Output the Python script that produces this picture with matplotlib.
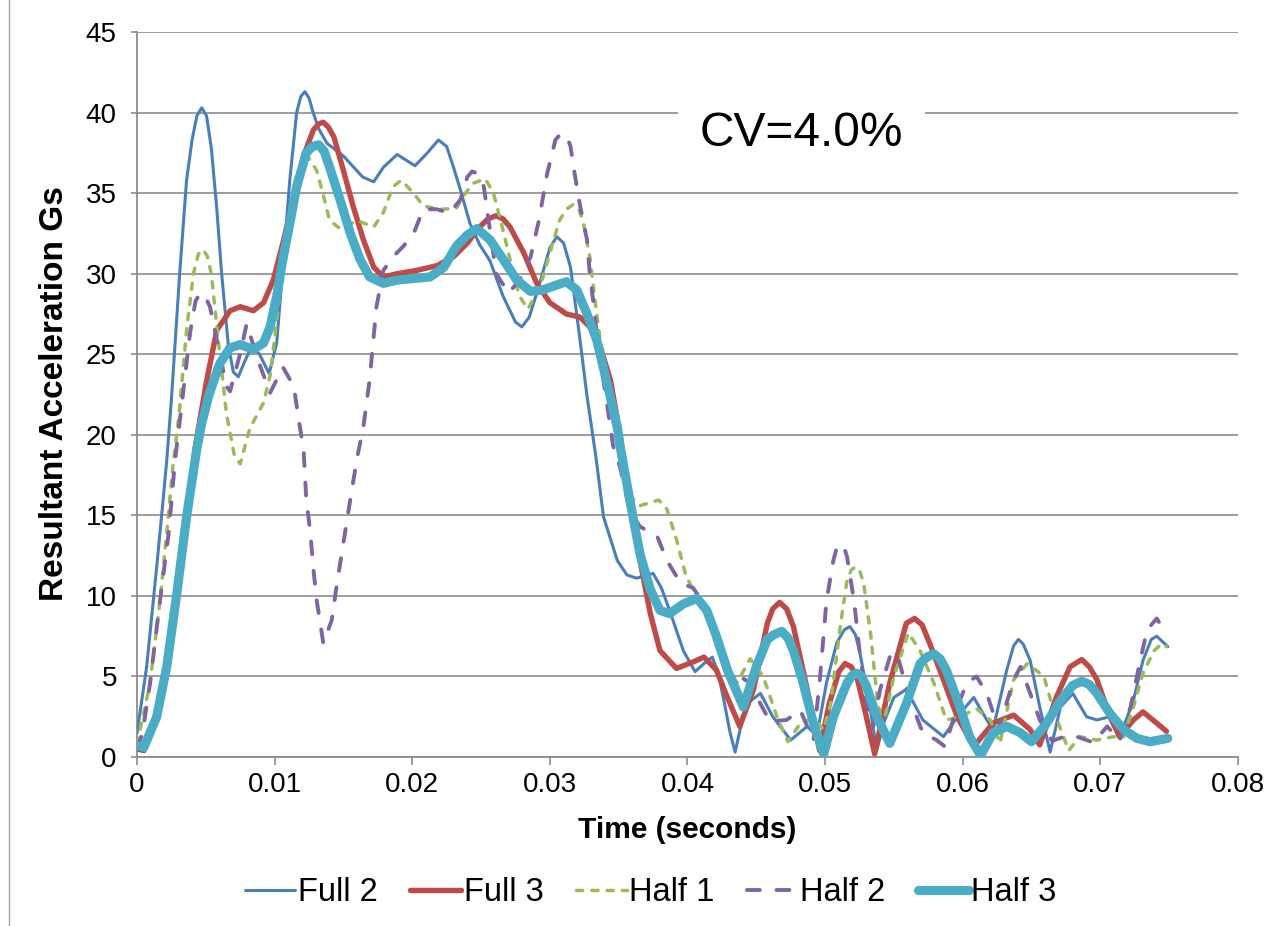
import numpy as np
import matplotlib.pyplot as plt
from matplotlib.lines import Line2D
from matplotlib.ticker import FuncFormatter

plt.rcParams['font.family'] = ['Liberation Sans', 'DejaVu Sans']

# times in milliseconds, values in G
t_full2 = [0, 0.7, 1.43, 1.9, 2.16, 2.5, 3.1, 3.6, 4.0, 4.35, 4.7, 5.05, 5.4, 5.8, 6.15,
           6.64, 7.0, 7.36, 7.8, 8.33, 8.9, 9.6, 10.15, 10.6, 11.1, 11.6, 11.9, 12.2, 12.5,
           12.8, 13.2, 13.8, 15.0, 16.4, 17.2, 17.9, 18.9, 20.2, 21.1, 21.9, 22.5, 23.0,
           23.5, 24.2, 24.9, 25.65, 26.6, 27.5, 27.96, 28.5, 29.05, 30.0, 30.5, 31.0, 31.5,
           32.1, 32.7, 33.35, 33.9, 34.9, 35.6, 36.3, 37.5, 38.1, 38.7, 39.7, 40.55, 41.2,
           41.8, 42.2, 42.6, 43.1, 43.46, 43.9, 44.3, 45.3, 46.2, 47.5, 48.7, 49.4, 50.1,
           50.85, 51.4, 51.8, 52.2, 52.5, 53.3, 53.75, 54.3, 55.0, 55.9, 57.1, 58.6, 59.8,
           60.8, 61.75, 62.2, 63.2, 63.7, 64.05, 64.4, 64.9, 65.6, 66.35, 67.1, 68.0, 69.0,
           69.75, 70.7, 71.7, 72.4, 73.1, 73.7, 74.1, 74.9]
v_full2 = [1.5, 5.6, 11.8, 16.0, 18.4, 22.2, 30.0, 35.8, 38.3, 39.8, 40.3, 39.8, 37.8, 34.0,
           30.0, 25.5, 23.9, 23.6, 24.5, 25.5, 25.0, 23.8, 25.7, 30.4, 35.8, 40.0, 41.0,
           41.3, 40.9, 40.0, 39.0, 38.1, 37.3, 36.0, 35.7, 36.6, 37.4, 36.7, 37.5, 38.3,
           37.9, 36.6, 35.2, 33.1, 31.8, 30.8, 28.6, 27.0, 26.7, 27.3, 28.8, 31.6, 32.3,
           31.9, 30.4, 26.5, 22.4, 18.6, 14.9, 12.2, 11.3, 11.1, 11.4, 10.5, 9.1, 6.6, 5.3,
           5.8, 6.2, 5.3, 3.7, 1.5, 0.3, 2.0, 3.3, 3.95, 2.5, 1.05, 1.9, 1.3, 4.6, 7.1, 7.9,
           8.1, 7.6, 6.6, 2.9, 0.4, 2.2, 3.7, 4.2, 2.3, 1.26, 2.7, 3.7, 2.3, 1.7, 5.4, 6.9,
           7.3, 7.0, 6.0, 3.1, 0.3, 3.1, 3.95, 2.5, 2.3, 2.5, 1.9, 3.5, 6.0, 7.3, 7.5, 6.85]

t_full3 = [0, 0.5, 1.2, 1.9, 2.9, 3.6, 4.3, 5.07, 5.8, 6.76, 7.5, 8.45, 9.2, 9.9, 10.6,
           11.4, 12.1, 12.8, 13.2, 13.54, 13.9, 14.3, 15.0, 15.7, 16.45, 17.2, 17.9, 18.9,
           20.3, 21.8, 23.0, 24.0, 24.9, 25.5, 26.1, 26.6, 27.1, 28.1, 29.05, 30.0, 31.2,
           32.2, 32.9, 33.65, 34.4, 35.1, 35.8, 36.55, 37.3, 38.0, 39.2, 40.4, 41.2, 42.1,
           42.9, 43.8, 44.8, 45.8, 46.2, 46.7, 47.2, 47.7, 48.7, 49.6, 50.3, 51.0, 51.45,
           51.9, 52.3, 53.0, 53.6, 54.7, 55.9, 56.5, 57.05, 57.6, 58.6, 59.6, 60.8, 62.2,
           63.7, 64.9, 65.6, 66.8, 67.8, 68.65, 69.2, 69.75, 70.7, 71.4, 72.4, 73.1, 74.1,
           74.8]
v_full3 = [0.5, 0.4, 2.0, 4.6, 9.7, 14.9, 19.6, 23.4, 26.5, 27.7, 27.95, 27.7, 28.2, 29.6,
           31.9, 34.8, 37.3, 38.9, 39.3, 39.4, 39.1, 38.5, 36.4, 34.2, 32.1, 30.4, 29.8,
           30.0, 30.2, 30.5, 31.05, 31.9, 32.9, 33.4, 33.6, 33.4, 32.9, 31.3, 29.4, 28.2,
           27.5, 27.3, 26.7, 25.5, 23.4, 20.0, 16.0, 12.2, 8.9, 6.6, 5.5, 5.9, 6.2, 5.4, 3.7,
           1.9, 4.2, 8.3, 9.2, 9.6, 9.2, 8.1, 4.2, 0.4, 3.3, 5.3, 5.8, 5.6, 5.0, 2.5, 0.2,
           4.6, 8.3, 8.6, 8.2, 7.05, 4.8, 2.5, 0.65, 2.1, 2.6, 1.7, 0.75, 3.7, 5.6, 6.05,
           5.6, 4.8, 2.5, 1.26, 2.3, 2.8, 2.1, 1.6]

t_half1 = [0, 0.95, 1.67, 2.16, 2.6, 3.05, 3.6, 4.1, 4.45, 4.8, 5.1, 5.4, 5.9, 6.5, 7.1,
           7.5, 8.2, 9.2, 9.7, 10.15, 10.6, 11.1, 11.6, 12.3, 13.06, 13.5, 14.0, 14.75,
           16.0, 17.2, 17.9, 18.6, 19.2, 20.1, 20.8, 22.0, 23.2, 23.7, 24.4, 25.3, 25.9,
           26.6, 27.35, 27.8, 28.4, 29.3, 30.0, 30.7, 31.2, 31.7, 32.1, 32.4, 32.9, 33.4,
           33.8, 34.5, 35.1, 35.6, 36.55, 37.9, 38.5, 39.2, 39.9, 40.7, 41.4, 42.1, 42.9,
           43.6, 44.55, 45.5, 46.5, 47.3, 48.2, 49.15, 49.9, 50.4, 51.1, 51.6, 51.9, 52.2,
           52.5, 52.8, 53.3, 53.8, 54.2, 55.0, 56.05, 56.9, 57.9, 58.8, 59.8, 61.0, 62.0,
           62.7, 63.7, 64.7, 65.9, 66.6, 67.7, 68.5, 69.75, 70.95, 71.7, 72.4, 73.1, 73.9,
           74.5, 74.8]
v_half1 = [0.8, 4.6, 9.7, 13.9, 18.0, 21.2, 26.5, 30.0, 31.2, 31.5, 31.1, 30.0, 25.9, 21.3,
           18.6, 18.2, 20.4, 22.0, 23.8, 27.1, 30.4, 33.8, 36.2, 37.4, 36.4, 35.0, 33.3,
           32.8, 33.3, 32.9, 33.8, 35.4, 35.8, 35.0, 34.2, 34.0, 34.05, 34.8, 35.6, 35.9,
           35.0, 32.7, 30.0, 28.6, 27.8, 29.2, 31.3, 33.3, 34.0, 34.3, 34.0, 33.3, 31.05,
           27.5, 25.05, 21.3, 18.5, 16.4, 15.6, 15.95, 15.4, 13.5, 11.2, 9.95, 8.9, 7.5, 5.6,
           4.6, 6.1, 5.0, 2.5, 0.95, 2.1, 2.4, 1.7, 3.3, 8.1, 11.0, 11.6, 11.8, 11.6, 10.8,
           7.7, 3.5, 1.9, 5.0, 7.7, 6.6, 4.6, 2.3, 2.5, 3.0, 2.3, 0.85, 4.8, 5.8, 5.0, 2.9,
           0.4, 1.26, 1.05, 1.26, 1.26, 3.1, 5.2, 6.6, 7.05, 6.85]

t_half2 = [0, 0.4, 0.95, 1.67, 2.3, 2.76, 3.2, 3.85, 4.25, 4.6, 4.95, 5.3, 5.8, 6.5, 6.76,
           7.5, 7.97, 8.7, 9.67, 10.6, 11.4, 11.7, 12.1, 12.3, 12.6, 12.8, 13.06, 13.54,
           14.15, 14.5, 15.0, 15.5, 16.0, 16.45, 16.9, 17.4, 17.9, 18.6, 19.35, 20.1, 20.8,
           21.8, 22.7, 23.5, 24.0, 24.35, 24.8, 25.2, 25.65, 26.1, 27.0, 27.8, 28.6, 29.2,
           29.8, 30.4, 30.7, 31.0, 31.25, 31.5, 31.8, 32.2, 32.7, 32.9, 33.2, 33.5, 34.1,
           34.6, 35.1, 35.8, 36.55, 37.8, 38.5, 39.5, 40.4, 41.4, 42.1, 42.9, 43.8, 44.55,
           45.3, 46.0, 47.2, 48.2, 48.7, 49.15, 49.6, 50.1, 50.6, 50.85, 51.1, 51.35, 51.6,
           52.1, 52.5, 53.0, 53.5, 54.0, 54.7, 55.2, 56.1, 57.1, 58.1, 58.7, 59.6, 60.3,
           61.0, 61.75, 62.6, 63.7, 64.2, 64.9, 65.6, 66.5, 67.5, 68.3, 69.5, 70.5, 71.4,
           72.2, 72.9, 73.4, 74.1, 74.6]
v_half2 = [0.5, 1.5, 4.6, 9.7, 13.9, 18.4, 21.5, 26.3, 28.3, 28.8, 28.6, 27.95, 25.9, 23.0,
           22.7, 25.05, 26.9, 24.85, 22.6, 24.2, 23.0, 21.2, 19.1, 16.0, 13.9, 11.8, 9.7,
           7.05, 8.5, 10.6, 13.3, 16.0, 18.6, 20.5, 23.4, 27.95, 30.2, 31.05, 31.7, 32.5,
           34.0, 34.0, 33.75, 34.6, 36.0, 36.35, 36.2, 35.4, 32.7, 30.0, 28.8, 29.6, 31.05,
           33.3, 36.2, 38.3, 38.6, 38.7, 38.5, 37.9, 36.2, 34.2, 32.1, 30.0, 27.95, 25.5,
           22.2, 19.3, 18.0, 15.3, 14.3, 13.7, 12.2, 10.8, 10.5, 9.3, 7.05, 5.0, 5.0, 4.6,
           3.3, 2.2, 2.3, 2.9, 1.9, 1.05, 4.6, 9.7, 12.2, 13.0, 13.2, 13.1, 12.4, 9.7, 6.6,
           3.5, 1.9, 4.2, 6.2, 6.5, 3.7, 1.5, 1.05, 0.65, 3.1, 4.6, 5.0, 3.95, 1.7, 4.8,
           5.6, 3.95, 2.3, 1.0, 1.3, 1.26, 0.9, 1.9, 1.0, 3.1, 6.0, 7.9, 8.6, 7.9]

t_half3 = [0, 0.5, 1.43, 2.16, 2.9, 3.6, 4.34, 4.7, 5.2, 6.0, 6.76, 7.5, 8.45, 9.2, 9.67,
           10.15, 10.6, 11.1, 11.6, 12.3, 12.75, 13.2, 13.6, 14.0, 14.75, 15.5, 16.2, 16.9,
           17.9, 18.9, 20.1, 21.3, 22.3, 23.2, 24.0, 24.7, 25.65, 26.6, 27.6, 28.6, 29.5,
           30.5, 31.2, 31.95, 32.7, 33.4, 34.1, 34.9, 35.1, 35.8, 36.55, 37.3, 38.0, 38.7,
           39.7, 40.7, 41.4, 42.1, 42.9, 44.06, 45.0, 45.8, 46.3, 46.85, 47.3, 47.7, 48.4,
           49.15, 49.9, 50.6, 51.6, 51.95, 52.3, 52.65, 53.0, 53.75, 54.7, 55.9, 56.9, 57.4,
           57.9, 58.35, 58.8, 59.8, 60.5, 61.3, 62.2, 63.2, 64.2, 65.0, 66.1, 67.1, 68.0,
           68.65, 69.2, 69.75, 70.7, 71.7, 72.65, 73.6, 74.9]
v_half3 = [0.7, 0.6, 2.5, 5.6, 10.2, 14.9, 19.1, 20.7, 22.4, 24.4, 25.4, 25.6, 25.3, 25.7,
           26.7, 28.6, 30.9, 33.1, 35.4, 37.5, 37.9, 38.0, 37.6, 36.6, 34.6, 32.5, 30.9,
           29.8, 29.4, 29.6, 29.7, 29.8, 30.4, 31.7, 32.4, 32.8, 32.1, 30.9, 29.6, 28.9,
           29.0, 29.3, 29.5, 29.0, 27.5, 25.9, 23.4, 20.5, 19.3, 16.0, 12.6, 10.4, 9.1, 8.9,
           9.5, 9.85, 9.1, 7.5, 5.4, 3.1, 5.6, 7.3, 7.6, 7.8, 7.4, 6.6, 4.6, 2.1, 0.2, 2.5,
           4.6, 5.05, 5.2, 5.0, 4.4, 2.5, 0.85, 3.3, 5.8, 6.2, 6.4, 6.1, 5.4, 3.1, 1.26,
           0.1, 1.5, 1.9, 1.5, 0.95, 2.1, 3.5, 4.45, 4.7, 4.5, 3.95, 2.7, 1.7, 1.16, 0.95,
           1.16]

labels = ['Full 2', 'Full 3', 'Half 1', 'Half 2', 'Half 3']
colors = ['#4A7EBB', '#BE4B48', '#9BBB59', '#8064A2', '#4BACC6']

fig = plt.figure(figsize=(12.71, 9.26), dpi=100)
ax = fig.add_axes([0.1078, 0.1825, 0.8662, 0.7829])

ms = 1000.0
ax.plot(np.array(t_full2) / ms, v_full2, color=colors[0], lw=2.2, label=labels[0],
        solid_capstyle='round', solid_joinstyle='round', zorder=3)
ax.plot(np.array(t_full3) / ms, v_full3, color=colors[1], lw=3.9, label=labels[1],
        solid_capstyle='round', solid_joinstyle='round', zorder=4)
ax.plot(np.array(t_half1) / ms, v_half1, color=colors[2], lw=2.5, label=labels[2],
        dashes=(1.8, 2.6), dash_capstyle='round', dash_joinstyle='round', zorder=5)
ax.plot(np.array(t_half2) / ms, v_half2, color=colors[3], lw=2.8, label=labels[3],
        dashes=(3.3, 4.3), dash_capstyle='round', dash_joinstyle='round', zorder=6)
ax.plot(np.array(t_half3) / ms, v_half3, color=colors[4], lw=6.6, label=labels[4],
        solid_capstyle='round', solid_joinstyle='round', zorder=7)

ax.set_xlim(0, 0.08)
ax.set_ylim(0, 45)
ax.set_xticks(np.arange(0, 0.081, 0.01))
ax.set_yticks(np.arange(0, 46, 5))
ax.xaxis.set_major_formatter(FuncFormatter(lambda v, p: '0' if v == 0 else f'{v:.2f}'))
ax.grid(axis='y', color='#8c8c8c', lw=1.2, zorder=1)
ax.set_axisbelow(True)
for s in ['top', 'right']:
    ax.spines[s].set_visible(False)
for s in ['left', 'bottom']:
    ax.spines[s].set_color('#8c8c8c')
    ax.spines[s].set_linewidth(1.3)
ax.tick_params(axis='x', direction='out', length=6, width=1.2, color='#8c8c8c',
               labelsize=20, pad=5)
ax.tick_params(axis='y', direction='out', length=4.5, width=1.2, color='#8c8c8c',
               labelsize=20, pad=10)

ax.set_xlabel('Time (seconds)', fontsize=21.5, fontweight='bold')
ax.set_ylabel('Resultant Acceleration Gs', fontsize=24, fontweight='bold')
ax.xaxis.set_label_coords(0.5, -0.082)
ax.yaxis.set_label_coords(-0.061, 0.502)

ax.text(0.0483, 38.7, 'CV=4.0%', fontsize=34.5, ha='center', va='center', zorder=10,
        bbox=dict(boxstyle='square,pad=0.45', fc='white', ec='none'))

fig.legend(loc='center', bbox_to_anchor=(0.512, 0.036), ncol=5, frameon=False,
           fontsize=23.5, handlelength=1.55, handletextpad=0.08, columnspacing=1.0)

fig.add_artist(Line2D([8.5 / 1271, 8.5 / 1271], [0, 1], color='#a6a6a6', lw=1,
                      transform=fig.transFigure))

fig.savefig('out.png', dpi=100)
